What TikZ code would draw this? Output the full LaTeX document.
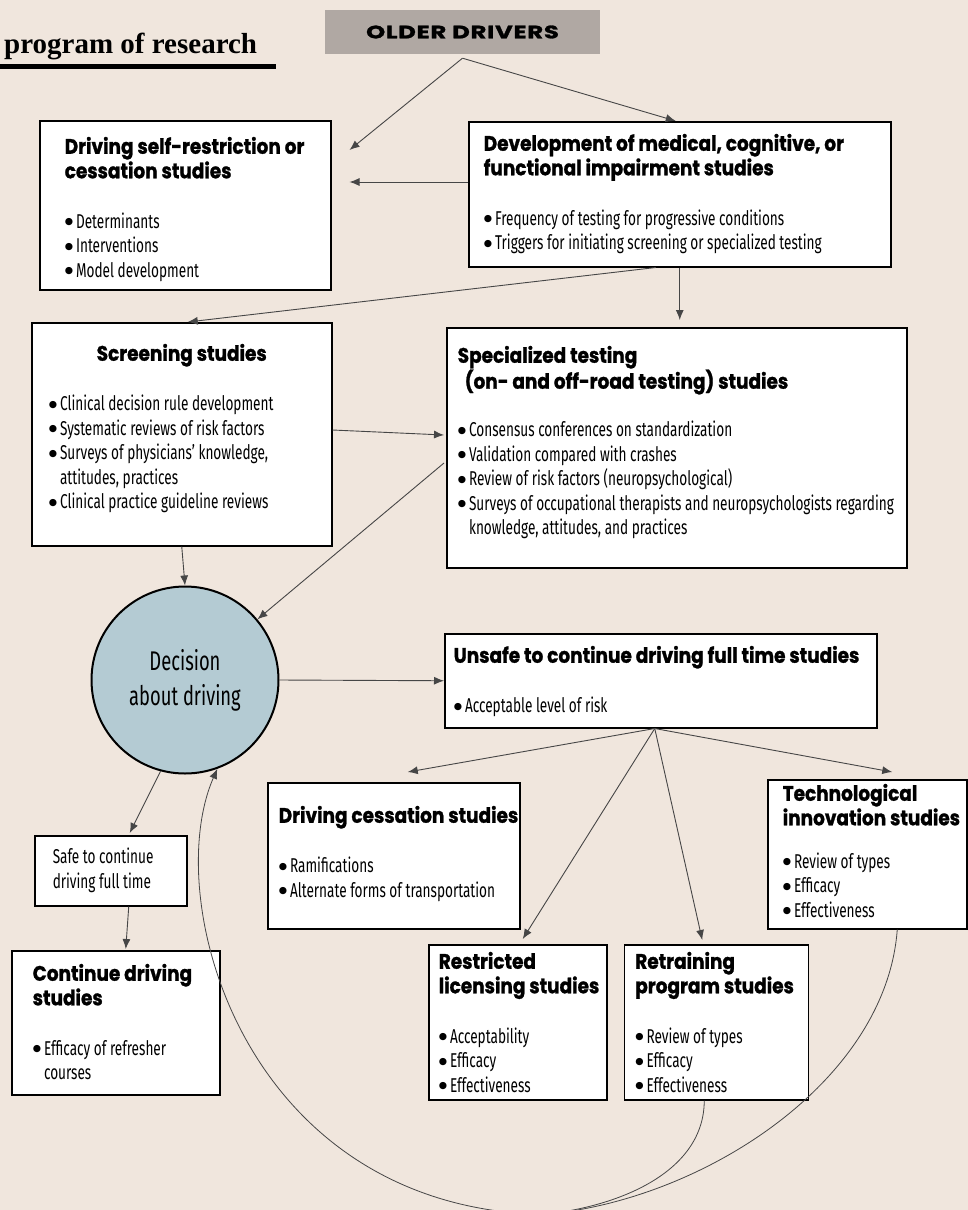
\documentclass[tikz,border=0pt]{standalone}
\usepackage{fontspec}
\setmainfont{Fira Sans}[FakeStretch=0.68]
\newfontfamily\headfont{Poppins}[FakeStretch=0.88, BoldFeatures={FakeBold=1.2}]
\newfontfamily\olderfont{Poppins}[FakeStretch=1.35, LetterSpace=4, BoldFeatures={FakeBold=1.5}]
\newfontfamily\progfont{Liberation Serif}
\newfontfamily\bulfont{DejaVu Sans}
\usetikzlibrary{arrows.meta}
\usetikzlibrary{calc}
\usetikzlibrary{positioning}

\definecolor{paper}{RGB}{240,230,221}
\definecolor{olderfill}{RGB}{176,168,163}
\definecolor{decisionfill}{RGB}{180,203,211}
\definecolor{linkgray}{RGB}{70,70,70}

% fonts inside the boxes
\newcommand{\ttl}{\headfont\bfseries\fontsize{21}{24.5}\selectfont}
\newcommand{\txt}{\normalfont\fontsize{20}{24.5}\selectfont}
\newcommand{\bul}{\raisebox{3.5pt}{\bulfont\fontsize{9.5}{10}\selectfont ●}\hspace{3pt}}
\newcommand{\hang}{\phantom{\bul}}
\newcommand{\gap}[1][25.5]{\par\vspace{#1pt}\txt}
% width, height, left pad, first baseline, text
\newcommand{\studybody}[5]{\parbox[c][#2pt][t]{#1pt}{\leftskip=#3pt\rightskip=0pt plus 1fil\rule{0pt}{#4pt}#5}}

\tikzset{
  x = 1pt,
  y = -1pt,
  > = {Latex[length=10pt, width=8pt]},
  study/.style = {rectangle,
                  draw,
                  fill = white,
                  line width = 1.5pt,
                  inner sep = 0pt,
                  anchor = north west},
  older/.style = {rectangle,
                  fill = olderfill,
                  minimum width = 275pt,
                  minimum height = 44pt,
                  font = \olderfont\bfseries\fontsize{18}{20}\selectfont},
  decide/.style = {circle,
                   draw,
                   fill = decisionfill,
                   line width = 2pt,
                   minimum size = 187pt,
                   inner sep = 0pt,
                   align = center,
                   font = \fontsize{27}{35}\selectfont},
  link/.style = {draw = linkgray,
                 line width = 0.9pt,
                 ->},
  back/.style = {draw = linkgray,
                 line width = 0.8pt}
}

\begin{document}
\begin{tikzpicture}

\useasboundingbox (0,0) rectangle (968,1210);
\clip (0,0) rectangle (968,1210);
\fill[paper] (0,0) rectangle (968,1210);

\node[anchor = base west, inner sep = 0pt, font = \progfont\bfseries\fontsize{29}{30}\selectfont](program-title) at (4,53){program of research};
\draw[line width = 5pt] (0,66.5) -- (276,66.5);

\node[older](older-drivers) at (462.5,32){OLDER DRIVERS};
\coordinate (apex) at ([yshift = -4pt]older-drivers.south);

\node[study](self-restriction) at (39,120){\studybody{291}{169}{25}{33}{\ttl Driving self-restriction or\\ cessation studies\gap
  \bul Determinants\\ \bul Interventions\\ \bul Model development}};

\node[study](dev-impairment) at (468,121){\studybody{422}{145}{15}{29}{\ttl Development of medical, cognitive, or\\ functional impairment studies\gap
  \bul Frequency of testing for progressive conditions\\ \bul Triggers for initiating screening or specialized testing}};

\node[study](screening) at (31,322){\studybody{300}{223}{17}{38}{{\centering\ttl Screening studies\par}\gap
  \bul Clinical decision rule development\\ \bul Systematic reviews of risk factors\\ \bul Surveys of physicians' knowledge,\\ \hang attitudes, practices\\ \bul Clinical practice guideline reviews}};

\node[study](spec-testing) at (446,327){\studybody{460}{240}{11}{35}{\ttl Specialized testing\\ \hspace*{7pt}(on- and off-road testing) studies\gap[23.5]
  \bul Consensus conferences on standardization\\ \bul Validation compared with crashes\\ \bul Review of risk factors (neuropsychological)\\ \bul Surveys of occupational therapists and neuropsychologists regarding\\ \hang knowledge, attitudes, and practices}};

\node[decide](decision) at (185,680){Decision\\about driving};

\node[study](unsafe) at (444,633){\studybody{432}{94}{9}{29}{\ttl Unsafe to continue driving full time studies\gap
  \bul Acceptable level of risk}};
\coordinate (split) at ([xshift = -6pt]unsafe.south);

\node[study](cessation) at (267,782){\studybody{252}{146}{11}{40}{\ttl Driving cessation studies\gap
  \bul Ramifications\\ \bul Alternate forms of transportation}};

\node[study](tech-innov) at (767,779){\studybody{199}{149}{15}{21}{\ttl Technological\\ innovation studies\gap[18.5]
  \bul Review of types\\ \bul Efficacy\\ \bul Effectiveness}};

\node[study](restricted) at (428,944){\studybody{178}{155}{10}{24}{\ttl Restricted\\ licensing studies\gap
  \bul Acceptability\\ \bul Efficacy\\ \bul Effectiveness}};

\node[study, right = 16pt of restricted.north east, anchor = north west](retraining){\studybody{184}{155}{11}{24}{\ttl Retraining\\ program studies\gap
  \bul Review of types\\ \bul Efficacy\\ \bul Effectiveness}};

\node[study](safe) at (34,835){\studybody{152}{70}{18}{28}{\txt Safe to continue\\ driving full time}};

\node[study](continue) at (11,950){\studybody{208}{144}{21}{30}{\ttl Continue driving\\ studies\gap
  \bul Efficacy of refresher\\ \hang courses}};

% links
\draw[link] (apex) -- ($(self-restriction.north east)+(18,30)$);
\draw[link] (apex) -- ([xshift = -4pt]dev-impairment.north);
\draw[link] ($(dev-impairment.north west)+(0,61)$) -- ($(self-restriction.north east)+(18,62)$);
\draw[link] ($(dev-impairment.south)+(-24,0)$) -- ($(screening.north)+(6,0)$);
\draw[link] (dev-impairment.south) -- ($(dev-impairment.south |- spec-testing.north)+(0,-7)$);
\draw[link] ($(screening.north east)+(0,108)$) -- ($(spec-testing.north west)+(-2,108)$);
\draw[link] ($(spec-testing.north west)+(-2,136)$) -- (decision);
\draw[link] (screening.south) -- (decision.north);
\draw[link] (decision.east) -- (unsafe.west);
\draw[link] (split) -- ($(cessation.north)+(14,-10)$);
\draw[link] (split) -- ($(restricted.north)+(5,-5)$);
\draw[link] (split) -- ($(retraining.north)+(-14,-4)$);
\draw[link] (split) -- ($(tech-innov.north)+(25,-7)$);
\draw[link] (decision.255) -- ($(safe.north)+(19,-2)$);
\draw[link] ($(safe.south)+(18,0)$) -- ($(continue.north)+(10,-1)$);

% back to the decision
\coordinate (join) at ($(retraining.south)+(-174,114)$);
\draw[back] ($(retraining.south)+(-12,0)$) .. controls +(0,70) and +(80,-8) .. (join);
\draw[back] ($(tech-innov.south)+(30,0)$) .. controls +(-11,152) and +(160,-13) .. (join);
\draw[back, ->] (join) .. controls +(-300,-8) and +(-57,130) .. (decision.290);

\end{tikzpicture}
\end{document}
